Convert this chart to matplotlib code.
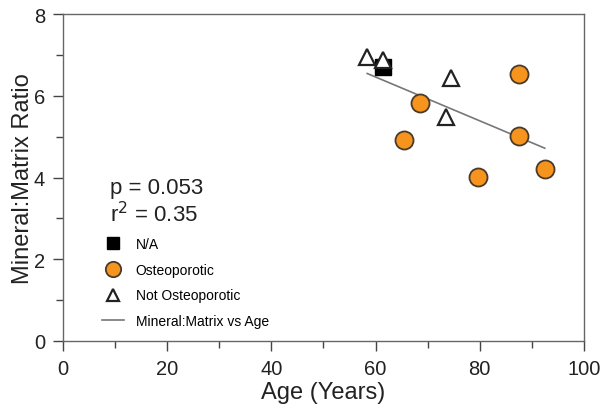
import numpy as np
import matplotlib.pyplot as plt
from matplotlib.ticker import MultipleLocator

plt.rcParams['font.family'] = ['Liberation Sans', 'DejaVu Sans']

# data
na_age = [61.4]
na_ratio = [6.7]
osteo_age = [87.5, 68.5, 65.4, 79.7, 87.5, 92.5]
osteo_ratio = [6.54, 5.83, 4.93, 4.02, 5.02, 4.22]
not_age = [58.4, 61.4, 74.5, 73.5]
not_ratio = [6.95, 6.88, 6.44, 5.49]

all_age = np.array(na_age + osteo_age + not_age)
all_ratio = np.array(na_ratio + osteo_ratio + not_ratio)
slope, icpt = np.polyfit(all_age, all_ratio, 1)
fit_x = np.array([all_age.min(), all_age.max()])

fig = plt.figure(figsize=(6.12, 4.10), dpi=100)
ax = fig.add_axes([0.103, 0.166, 0.851, 0.797])

ax.plot(fit_x, slope * fit_x + icpt, color='#777777', lw=1.2, zorder=1,
        label='Mineral:Matrix vs Age')
ax.plot(not_age, not_ratio, '^', ms=11, mfc='white', mec='#222222', mew=1.6,
        ls='none', zorder=3, label='Not Osteoporotic')
ax.plot(na_age, na_ratio, 's', ms=11, mfc='black', mec='black',
        ls='none', zorder=2, label='N/A')
ax.plot(osteo_age, osteo_ratio, 'o', ms=13, mfc='#F7941D', mec='#4a3a2a', mew=1.3,
        ls='none', zorder=3, label='Osteoporotic')

ax.set_xlim(0, 100)
ax.set_ylim(0, 8)
ax.xaxis.set_major_locator(MultipleLocator(20))
ax.xaxis.set_minor_locator(MultipleLocator(10))
ax.yaxis.set_major_locator(MultipleLocator(2))
ax.yaxis.set_minor_locator(MultipleLocator(1))
ax.tick_params(which='both', direction='out', color='#444444', labelsize=14.5,
               labelcolor='#222222')
ax.tick_params(axis='x', pad=6)
ax.tick_params(axis='y', pad=6)
ax.tick_params(which='major', length=7, width=1)
ax.tick_params(which='minor', length=5, width=1)
for s in ax.spines.values():
    s.set_color('#666666')
    s.set_linewidth(1)

ax.set_xlabel('Age (Years)', fontsize=17, color='#222222', labelpad=2)
ax.set_ylabel('Mineral:Matrix Ratio', fontsize=17, color='#222222', labelpad=0)

ax.text(0.09, 0.47, 'p = 0.053', transform=ax.transAxes, fontsize=16,
        color='#222222', va='center')
ax.text(0.09, 0.39, 'r$^2$ = 0.35', transform=ax.transAxes, fontsize=16,
        color='#222222', va='center')

h, l = ax.get_legend_handles_labels()
order = [2, 3, 1, 0]
ax.legend([h[i] for i in order], [l[i] for i in order], loc='upper left',
          bbox_to_anchor=(0.062, 0.34), frameon=False, fontsize=10,
          handlelength=1.6, handletextpad=0.8, labelspacing=0.85,
          markerscale=0.85, borderpad=0)

fig.savefig('out.png', dpi=100)
